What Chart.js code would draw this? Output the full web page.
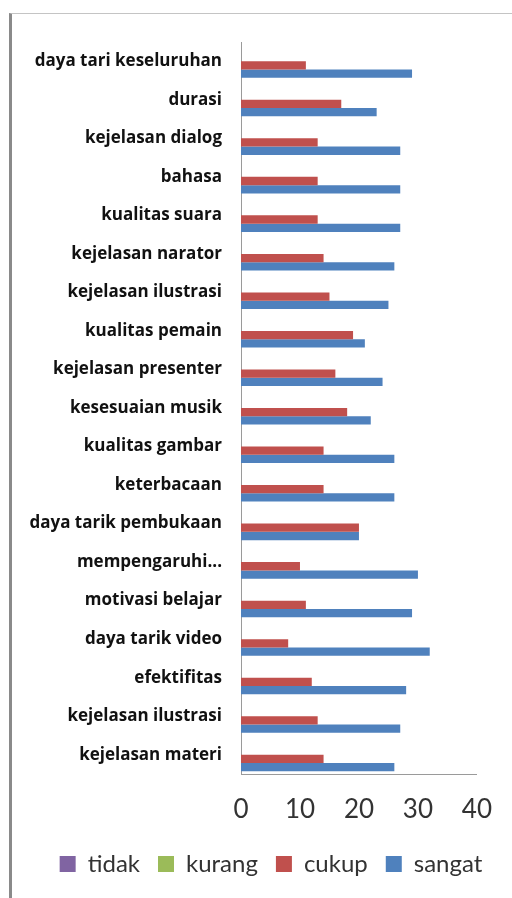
<!DOCTYPE html>
<html>
<head>
<meta charset="utf-8">
<script src="https://cdn.jsdelivr.net/npm/chart.js@4.4.1/dist/chart.umd.min.js"></script>
<style>
  html, body { margin: 0; padding: 0; background: #fff; }
  #wrap { position: relative; width: 512px; height: 898px; }
  #frame {
    position: absolute; left: 9px; top: 13px; right: 0; bottom: 0;
    border-left: 3px solid #8a8a8a; border-top: 1px solid #c4c4c4;
  }
  canvas { position: absolute; left: 0; top: 0; }
</style>
</head>
<body>
<div id="wrap">
  <div id="frame"></div>
  <canvas id="chart" width="512" height="898"></canvas>
</div>
<script>
// categories listed top to bottom, as seen in the picture
const categories = [
    'daya tari keseluruhan', 'durasi', 'kejelasan dialog', 'bahasa',
    'kualitas suara', 'kejelasan narator', 'kejelasan ilustrasi',
    'kualitas pemain', 'kejelasan presenter', 'kesesuaian musik',
    'kualitas gambar', 'keterbacaan', 'daya tarik pembukaan',
    'mempengaruhi...', 'motivasi belajar', 'daya tarik video',
    'efektifitas', 'kejelasan ilustrasi', 'kejelasan materi'
];
const tidak  = [0, 0, 0, 0, 0, 0, 0, 0, 0, 0, 0, 0, 0, 0, 0, 0, 0, 0, 0];
const kurang = [0, 0, 0, 0, 0, 0, 0, 0, 0, 0, 0, 0, 0, 0, 0, 0, 0, 0, 0];
const cukup  = [11, 17, 13, 13, 13, 14, 15, 19, 16, 18, 14, 14, 20, 10, 11, 8, 12, 13, 14];
const sangat = [29, 23, 27, 27, 27, 26, 25, 21, 24, 22, 26, 26, 20, 30, 29, 32, 28, 27, 26];
const xTicks = [0, 10, 20, 30, 40];

const textColor = '#333333';
const axisColor = '#9a9a9a';

new Chart(document.getElementById('chart'), {
    type: 'bar',
    data: {
        labels: categories,
        datasets: [
            { label: 'tidak',  data: tidak,  backgroundColor: '#8064A2' },
            { label: 'kurang', data: kurang, backgroundColor: '#9BBB59' },
            { label: 'cukup',  data: cukup,  backgroundColor: '#C0504D' },
            { label: 'sangat', data: sangat, backgroundColor: '#4F81BD' }
        ]
    },
    options: {
        indexAxis: 'y',
        responsive: false,
        animation: false,
        devicePixelRatio: 1,
        datasets: { bar: { categoryPercentage: 0.86, barPercentage: 1.0 } },
        layout: { padding: { left: 30, right: 0, top: 42, bottom: 12 } },
        scales: {
            x: {
                min: 0, max: 40,
                afterBuildTicks: (scale) => { scale.ticks = xTicks.map(v => ({ value: v })); },
                afterFit: (scale) => { scale.height = 60; },
                grid: { display: false, drawTicks: false },
                border: { display: true, color: axisColor, width: 1 },
                ticks: {
                    padding: 20,
                    color: textColor,
                    font: { family: 'Lato', size: 26 }
                }
            },
            y: {
                afterFit: (scale) => { scale.width = 211; },
                grid: { display: false, drawTicks: false },
                border: { display: true, color: axisColor, width: 1 },
                ticks: {
                    padding: 19,
                    autoSkip: false,
                    color: '#111111',
                    font: { family: 'Open Sans', size: 17, weight: 'bold' }
                }
            },
            // empty spacer on the right so the plot ends where the reference does
            spacer: {
                type: 'category',
                position: 'right',
                axis: 'y',
                afterFit: (scale) => { scale.width = 32; },
                grid: { display: false, drawTicks: false },
                border: { display: false },
                ticks: { display: false }
            }
        },
        plugins: {
            legend: {
                position: 'bottom',
                labels: {
                    boxWidth: 16,
                    boxHeight: 16,
                    padding: 18,
                    color: textColor,
                    font: { family: 'Lato', size: 24 }
                }
            },
            tooltip: { enabled: false }
        }
    }
});
</script>
</body>
</html>
